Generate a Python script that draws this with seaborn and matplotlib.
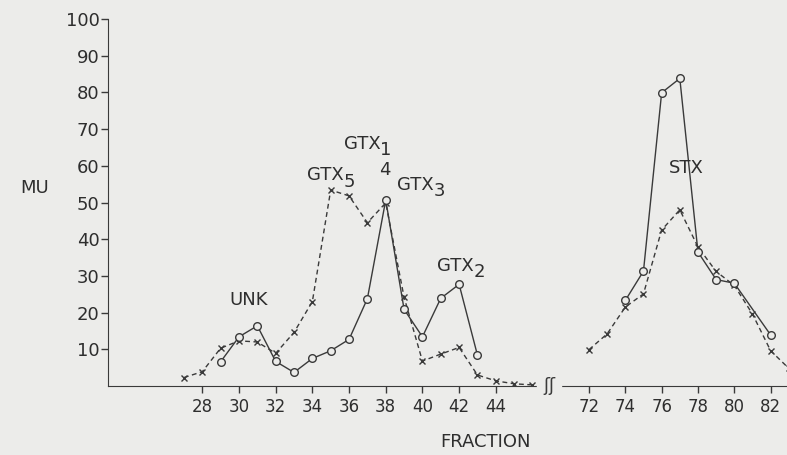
import matplotlib
matplotlib.use("Agg")
import matplotlib.pyplot as plt
import seaborn as sns
import pandas as pd

# ---- data ----
left_frac_solid = [29, 30, 31, 32, 33, 34, 35, 36, 37, 38, 39, 40, 41, 42, 43]
left_mu_solid = [6.6, 13.4, 16.4, 6.7, 3.7, 7.5, 9.6, 12.7, 23.8, 50.7, 20.9, 13.4, 23.9, 27.7, 8.4]
left_frac_dash = [27, 28, 29, 30, 31, 32, 33, 34, 35, 36, 37, 38, 39, 40, 41, 42, 43, 44, 45, 46]
left_mu_dash = [2.3, 3.9, 10.3, 12.3, 12.0, 8.9, 14.6, 23.0, 53.4, 51.8, 44.5, 49.9, 24.2, 6.8, 8.7, 10.5, 3.0, 1.4, 0.6, 0.3]
right_frac_solid = [74, 75, 76, 77, 78, 79, 80, 82]
right_mu_solid = [23.3, 31.3, 79.9, 83.8, 36.5, 29.0, 28.0, 13.9]
right_frac_dash = [72, 73, 74, 75, 76, 77, 78, 79, 80, 81, 82, 83]
right_mu_dash = [9.9, 14.2, 21.5, 25.1, 42.5, 48.0, 37.9, 31.2, 27.4, 19.6, 9.6, 4.8]
left_ticks = [28, 30, 32, 34, 36, 38, 40, 42, 44]
right_ticks = [72, 74, 76, 78, 80, 82]
y_ticks = [10, 20, 30, 40, 50, 60, 70, 80, 90, 100]

ink = "#3a3a3a"
bg = "#ececea"

sns.set_style("ticks")
plt.rcParams["font.family"] = ["DejaVu Sans"]

fig = plt.figure(figsize=(7.87, 4.55), dpi=100, facecolor=bg)
x0, xb, x1 = 108 / 787, 549 / 787, 1.0
y0, y1 = 1 - 386 / 455, 1 - 19 / 455
ax1 = fig.add_axes([x0, y0, xb - x0, y1 - y0])
ax2 = fig.add_axes([xb, y0, x1 - xb, y1 - y0])

for ax in (ax1, ax2):
    ax.set_facecolor(bg)
    ax.set_ylim(0, 100)
    for s in ("top", "right"):
        ax.spines[s].set_visible(False)
    ax.spines["bottom"].set_color(ink)
    ax.spines["left"].set_color(ink)
    ax.tick_params(colors=ink, labelcolor="#2e2e2e", width=1, length=5)

solid_kw = dict(color=ink, linewidth=1.0, marker="o", markersize=5.5,
                markerfacecolor=bg, markeredgecolor=ink, markeredgewidth=1.0)
dash_kw = dict(color=ink, linewidth=1.0, marker="x", markersize=4,
               markeredgecolor=ink, markeredgewidth=1.0, dashes=(3.5, 2.5))

df_ls = pd.DataFrame({"f": left_frac_solid, "mu": left_mu_solid})
df_ld = pd.DataFrame({"f": left_frac_dash, "mu": left_mu_dash})
df_rs = pd.DataFrame({"f": right_frac_solid, "mu": right_mu_solid})
df_rd = pd.DataFrame({"f": right_frac_dash, "mu": right_mu_dash})

sns.lineplot(data=df_ld, x="f", y="mu", ax=ax1, **dash_kw)
sns.lineplot(data=df_ls, x="f", y="mu", ax=ax1, **solid_kw)
sns.lineplot(data=df_rd, x="f", y="mu", ax=ax2, **dash_kw)
sns.lineplot(data=df_rs, x="f", y="mu", ax=ax2, **solid_kw)

ax1.set_xlim(22.86, 46.9)
ax2.set_xlim(69.8, 82.9)
ax1.set_xticks(left_ticks)
ax1.set_xticklabels([str(t) for t in left_ticks], fontsize=12)
ax2.set_xticks(right_ticks)
ax2.set_xticklabels([str(t) for t in right_ticks], fontsize=12)
ax1.set_yticks(y_ticks)
ax1.set_yticklabels([str(t) for t in y_ticks], fontsize=13)
ax1.tick_params(axis="y", pad=1)
ax2.spines["left"].set_visible(False)
ax2.tick_params(axis="y", left=False, labelleft=False)
for ax in (ax1, ax2):
    ax.set_xlabel("")
    ax.set_ylabel("")

# axis break mark
fig.text(xb, y0, "ʃʃ", ha="center", va="center", fontsize=13, color=ink,
         backgroundcolor=bg)

# annotations
tk = dict(color="#2e2e2e", fontsize=13)


def label(ax, x, y, base, sub=None):
    ax.text(x, y, base, ha="left", va="baseline", **tk)
    if sub is not None:
        ax.annotate(sub, xy=(x, y), xytext=(26.5, -4.5), textcoords="offset points",
                    ha="left", va="baseline", **tk)


ax1.text(30.5, 23.3, "UNK", ha="center", va="center", **tk)
label(ax1, 33.7, 56.0, "GTX", "5")
label(ax1, 35.7, 64.6, "GTX", "1")
ax1.text(37.95, 58.9, "4", ha="center", va="center", **tk)
label(ax1, 38.6, 53.4, "GTX", "3")
label(ax1, 40.8, 31.4, "GTX", "2")
ax2.text(77.35, 59.5, "STX", ha="center", va="center", **tk)

fig.text(35 / 787, 1 - 188 / 455, "MU", ha="center", va="center", **tk)
fig.text(485 / 787, 1 - 442 / 455, "FRACTION", ha="center", va="center", **tk)

fig.savefig("out.png", dpi=100, facecolor=bg)
